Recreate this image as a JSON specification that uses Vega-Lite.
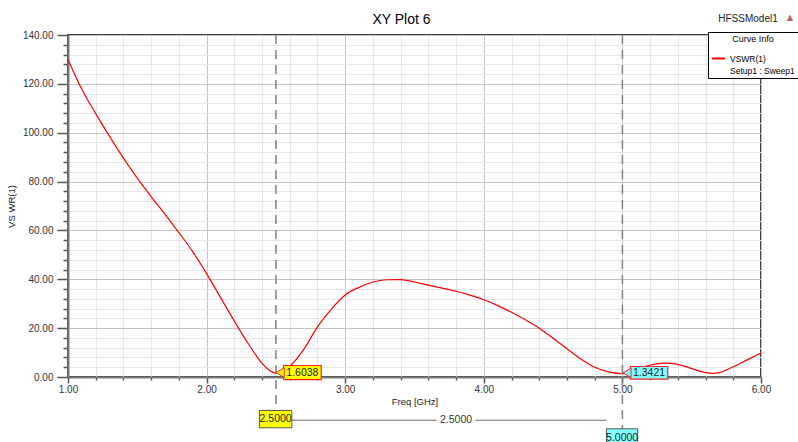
{
  "$schema": "https://vega.github.io/schema/vega-lite/v6.json",
  "width": 693,
  "height": 342,
  "autosize": "none",
  "padding": {"left": 68, "top": 35, "right": 37, "bottom": 65},
  "background": "white",
  "title": {"text": "XY Plot 6", "fontSize": 14, "fontWeight": "normal", "color": "#000000", "offset": -15, "dx": -13, "anchor": "middle"},
  "config": {
    "font": "Liberation Sans, Arial, sans-serif",
    "view": {"stroke": "#000000", "strokeWidth": 1.5},
    "axis": {"labelOverlap": false, "labelBound": false, "labelSeparation": 0},
    "text": {"font": "Liberation Sans, Arial, sans-serif"}
  },
  "datasets": {
    "vswr": [
      {"freq": 1.0, "vswr": 130.0, "curve": "VSWR(1)"},
      {"freq": 1.1, "vswr": 117.8, "curve": "VSWR(1)"},
      {"freq": 1.2, "vswr": 107.8, "curve": "VSWR(1)"},
      {"freq": 1.3, "vswr": 98.5, "curve": "VSWR(1)"},
      {"freq": 1.4, "vswr": 89.6, "curve": "VSWR(1)"},
      {"freq": 1.5, "vswr": 81.4, "curve": "VSWR(1)"},
      {"freq": 1.6, "vswr": 73.8, "curve": "VSWR(1)"},
      {"freq": 1.7, "vswr": 66.6, "curve": "VSWR(1)"},
      {"freq": 1.8, "vswr": 59.1, "curve": "VSWR(1)"},
      {"freq": 1.9, "vswr": 51.3, "curve": "VSWR(1)"},
      {"freq": 2.0, "vswr": 42.3, "curve": "VSWR(1)"},
      {"freq": 2.1, "vswr": 32.6, "curve": "VSWR(1)"},
      {"freq": 2.2, "vswr": 22.9, "curve": "VSWR(1)"},
      {"freq": 2.3, "vswr": 13.7, "curve": "VSWR(1)"},
      {"freq": 2.4, "vswr": 5.6, "curve": "VSWR(1)"},
      {"freq": 2.45, "vswr": 2.9, "curve": "VSWR(1)"},
      {"freq": 2.5, "vswr": 1.6038, "curve": "VSWR(1)"},
      {"freq": 2.55, "vswr": 2.4, "curve": "VSWR(1)"},
      {"freq": 2.6, "vswr": 4.4, "curve": "VSWR(1)"},
      {"freq": 2.7, "vswr": 11.2, "curve": "VSWR(1)"},
      {"freq": 2.8, "vswr": 20.5, "curve": "VSWR(1)"},
      {"freq": 2.9, "vswr": 27.8, "curve": "VSWR(1)"},
      {"freq": 3.0, "vswr": 33.6, "curve": "VSWR(1)"},
      {"freq": 3.1, "vswr": 36.7, "curve": "VSWR(1)"},
      {"freq": 3.2, "vswr": 38.9, "curve": "VSWR(1)"},
      {"freq": 3.3, "vswr": 39.8, "curve": "VSWR(1)"},
      {"freq": 3.4, "vswr": 39.9, "curve": "VSWR(1)"},
      {"freq": 3.5, "vswr": 38.9, "curve": "VSWR(1)"},
      {"freq": 3.6, "vswr": 37.6, "curve": "VSWR(1)"},
      {"freq": 3.7, "vswr": 36.4, "curve": "VSWR(1)"},
      {"freq": 3.8, "vswr": 35.1, "curve": "VSWR(1)"},
      {"freq": 3.9, "vswr": 33.5, "curve": "VSWR(1)"},
      {"freq": 4.0, "vswr": 31.6, "curve": "VSWR(1)"},
      {"freq": 4.1, "vswr": 29.2, "curve": "VSWR(1)"},
      {"freq": 4.2, "vswr": 26.5, "curve": "VSWR(1)"},
      {"freq": 4.3, "vswr": 23.4, "curve": "VSWR(1)"},
      {"freq": 4.4, "vswr": 20.0, "curve": "VSWR(1)"},
      {"freq": 4.5, "vswr": 15.9, "curve": "VSWR(1)"},
      {"freq": 4.6, "vswr": 11.6, "curve": "VSWR(1)"},
      {"freq": 4.7, "vswr": 7.4, "curve": "VSWR(1)"},
      {"freq": 4.8, "vswr": 4.0, "curve": "VSWR(1)"},
      {"freq": 4.9, "vswr": 2.1, "curve": "VSWR(1)"},
      {"freq": 5.0, "vswr": 1.3421, "curve": "VSWR(1)"},
      {"freq": 5.1, "vswr": 3.0, "curve": "VSWR(1)"},
      {"freq": 5.2, "vswr": 4.9, "curve": "VSWR(1)"},
      {"freq": 5.3, "vswr": 5.7, "curve": "VSWR(1)"},
      {"freq": 5.4, "vswr": 5.2, "curve": "VSWR(1)"},
      {"freq": 5.5, "vswr": 3.4, "curve": "VSWR(1)"},
      {"freq": 5.6, "vswr": 1.8, "curve": "VSWR(1)"},
      {"freq": 5.65, "vswr": 1.5, "curve": "VSWR(1)"},
      {"freq": 5.7, "vswr": 1.8, "curve": "VSWR(1)"},
      {"freq": 5.8, "vswr": 4.2, "curve": "VSWR(1)"},
      {"freq": 5.9, "vswr": 7.0, "curve": "VSWR(1)"},
      {"freq": 6.0, "vswr": 9.8, "curve": "VSWR(1)"}
    ],
    "cursors": [
      {"freq": 2.5, "top": 140, "bottom": -13.7, "m": "A"},
      {"freq": 5.0, "top": 140, "bottom": -21.2, "m": "B"}
    ],
    "valueBoxes": [
      {"x1": 2.555, "x2": 2.827, "y1": -1.1, "y2": 4.7, "m": "A", "cx": 2.691, "cy": 1.75, "label": "1.6038", "px": 2.53, "py": 1.8},
      {"x1": 5.058, "x2": 5.327, "y1": -0.9, "y2": 4.3, "m": "B", "cx": 5.192, "cy": 1.65, "label": "1.3421", "px": 5.033, "py": 1.7}
    ],
    "axisBoxes": [
      {"x1": 2.381, "x2": 2.615, "y1": -20.8, "y2": -13.7, "m": "A", "cx": 2.498, "cy": -17.25, "label": "2.5000"},
      {"x1": 4.885, "x2": 5.11, "y1": -29.5, "y2": -21.2, "m": "B", "cx": 4.998, "cy": -24.9, "label": "5.0000"}
    ],
    "delta": [
      {"x1": 2.615, "x2": 3.66, "y": -17.7},
      {"x1": 3.94, "x2": 4.885, "y": -17.7}
    ]
  },
  "layer": [
    {
      "data": {"name": "vswr"},
      "mark": {"type": "line", "strokeWidth": 1.2, "interpolate": "monotone"},
      "encoding": {
        "x": {
          "field": "freq", "type": "quantitative",
          "scale": {"domain": [1, 6], "nice": false, "zero": false},
          "axis": {
            "title": "Freq [GHz]",
            "values": [1, 1.2, 1.4, 1.6, 1.8, 2, 2.2, 2.4, 2.6, 2.8, 3, 3.2, 3.4, 3.6, 3.8, 4, 4.2, 4.4, 4.6, 4.8, 5, 5.2, 5.4, 5.6, 5.8, 6],
            "tickCount": 200,
            "format": ".2f",
            "labelExpr": "abs(datum.value - round(datum.value)) < 0.001 ? datum.label : ''",
            "labelOverlap": false,
            "labelFlush": false,
            "labelFontSize": {"condition": {"test": "abs(datum.value - round(datum.value)) < 0.001", "value": 10}, "value": 0},
            "labelColor": "#333333",
            "labelPadding": 1,
            "tickSize": {"condition": {"test": "abs(datum.value - round(datum.value)) < 0.001", "value": 6}, "value": 3},
            "tickColor": "#555555",
            "tickWidth": 1.5,
            "domainColor": "#7a7a7a",
            "domainWidth": 2,
            "gridColor": {"condition": {"test": "abs(datum.value - round(datum.value)) < 0.001", "value": "#c4c4c4"}, "value": "#e6e6e6"},
            "gridWidth": 1,
            "titleFontSize": 9.5,
            "titleFontWeight": "normal",
            "titleColor": "#222222",
            "titlePadding": 2
          }
        },
        "y": {
          "field": "vswr", "type": "quantitative",
          "scale": {"domain": [0, 140], "nice": false, "zero": false},
          "axis": {
            "title": "VS WR(1)",
            "values": [0, 4, 8, 12, 16, 20, 24, 28, 32, 36, 40, 44, 48, 52, 56, 60, 64, 68, 72, 76, 80, 84, 88, 92, 96, 100, 104, 108, 112, 116, 120, 124, 128, 132, 136, 140],
            "tickCount": 200,
            "format": ".2f",
            "labelExpr": "datum.value % 20 === 0 ? datum.label : ''",
            "labelOverlap": false,
            "labelFlush": false,
            "labelFontSize": {"condition": {"test": "datum.value % 20 === 0", "value": 10}, "value": 0},
            "labelColor": "#333333",
            "labelPadding": 4,
            "tickSize": {"condition": {"test": "datum.value % 20 === 0", "value": 11}, "value": 5},
            "tickColor": "#555555",
            "tickWidth": 1.5,
            "domainColor": "#7a7a7a",
            "domainWidth": 2,
            "gridColor": {"condition": {"test": "datum.value % 20 === 0", "value": "#c4c4c4"}, "value": "#e6e6e6"},
            "gridWidth": 1,
            "titleFontSize": 9.5,
            "titleFontWeight": "normal",
            "titleColor": "#222222",
            "titlePadding": 6
          }
        },
        "color": {
          "field": "curve", "type": "nominal",
          "scale": {"domain": ["VSWR(1)", "Setup1 : Sweep1"], "range": ["#ff0000", "rgba(255,255,255,0)"]},
          "legend": {
            "title": "Curve Info",
            "orient": "none",
            "legendX": 640,
            "legendY": -3,
            "strokeColor": "#000000",
            "fillColor": "#ffffff",
            "padding": 3,
            "titleFontSize": 9,
            "titleFontWeight": "normal",
            "titleColor": "#000000",
            "titleAnchor": "middle",
            "titlePadding": 7,
            "labelFontSize": 8.5,
            "labelColor": "#000000",
            "labelOffset": 4,
            "labelLimit": 200,
            "symbolType": "stroke",
            "symbolStrokeWidth": 2,
            "symbolSize": 169,
            "rowPadding": 0
          }
        }
      }
    },
    {
      "data": {"name": "cursors"},
      "mark": {"type": "rule", "color": "#808080", "strokeWidth": 1.5, "strokeDash": [9, 6]},
      "encoding": {
        "x": {"field": "freq", "type": "quantitative"},
        "y": {"field": "top", "type": "quantitative"},
        "y2": {"field": "bottom"}
      }
    },
    {
      "data": {"name": "delta"},
      "mark": {"type": "rule", "color": "#6a6a6a", "strokeWidth": 1},
      "encoding": {
        "x": {"field": "x1", "type": "quantitative"},
        "x2": {"field": "x2"},
        "y": {"field": "y", "type": "quantitative"}
      }
    },
    {
      "data": {"name": "valueBoxes"},
      "mark": {"type": "rect", "stroke": "#ff2020", "strokeWidth": 1.2},
      "encoding": {
        "x": {"field": "x1", "type": "quantitative"},
        "x2": {"field": "x2"},
        "y": {"field": "y1", "type": "quantitative"},
        "y2": {"field": "y2"},
        "fill": {"field": "m", "type": "nominal", "scale": {"domain": ["A", "B"], "range": ["#ffff00", "#80ffff"]}, "legend": null}
      }
    },
    {
      "data": {"name": "valueBoxes"},
      "mark": {"type": "point", "shape": "triangle-left", "size": 90, "stroke": "#ff2020", "strokeWidth": 1, "filled": true, "opacity": 1},
      "encoding": {
        "x": {"field": "px", "type": "quantitative"},
        "y": {"field": "py", "type": "quantitative"},
        "fill": {"field": "m", "type": "nominal", "scale": {"domain": ["A", "B"], "range": ["#ffff00", "#80ffff"]}, "legend": null}
      }
    },
    {
      "data": {"name": "valueBoxes"},
      "mark": {"type": "text", "fontSize": 10.5, "color": "#222222", "align": "center", "baseline": "middle"},
      "encoding": {
        "x": {"field": "cx", "type": "quantitative"},
        "y": {"field": "cy", "type": "quantitative"},
        "text": {"field": "label"}
      }
    },
    {
      "data": {"name": "axisBoxes"},
      "mark": {"type": "rect", "stroke": "#555555", "strokeWidth": 1},
      "encoding": {
        "x": {"field": "x1", "type": "quantitative"},
        "x2": {"field": "x2"},
        "y": {"field": "y1", "type": "quantitative"},
        "y2": {"field": "y2"},
        "fill": {"field": "m", "type": "nominal", "scale": {"domain": ["A", "B"], "range": ["#ffff00", "#80ffff"]}, "legend": null}
      }
    },
    {
      "data": {"name": "axisBoxes"},
      "mark": {"type": "text", "fontSize": 10.5, "color": "#222222", "align": "center", "baseline": "middle"},
      "encoding": {
        "x": {"field": "cx", "type": "quantitative"},
        "y": {"field": "cy", "type": "quantitative"},
        "text": {"field": "label"}
      }
    },
    {
      "data": {"values": [{"freq": 3.8, "y": -17.7, "label": "2.5000"}]},
      "mark": {"type": "text", "fontSize": 10.5, "color": "#333333", "align": "center", "baseline": "middle"},
      "encoding": {
        "x": {"field": "freq", "type": "quantitative"},
        "y": {"field": "y", "type": "quantitative"},
        "text": {"field": "label"}
      }
    },
    {
      "data": {"values": [{"label": "HFSSModel1"}]},
      "mark": {"type": "text", "fontSize": 10, "color": "#222222", "align": "center", "baseline": "middle", "dx": -13, "dy": -16},
      "encoding": {
        "x": {"datum": 6},
        "y": {"datum": 140},
        "text": {"field": "label"}
      }
    },
    {
      "data": {"values": [{"label": "▲"}]},
      "mark": {"type": "text", "fontSize": 11, "color": "#c86464", "align": "center", "baseline": "middle", "dx": 29, "dy": -17},
      "encoding": {
        "x": {"datum": 6},
        "y": {"datum": 140},
        "text": {"field": "label"}
      }
    }
  ]
}
